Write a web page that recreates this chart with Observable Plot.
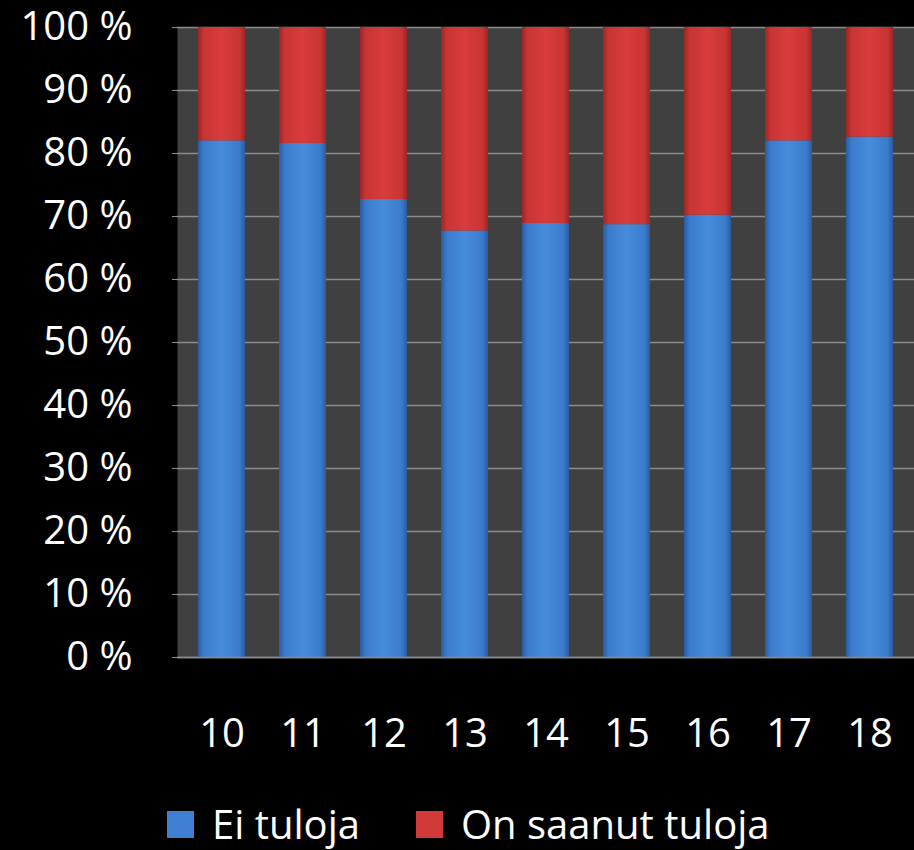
<!DOCTYPE html>
<html>
<head>
<meta charset="utf-8">
<script src="https://cdn.jsdelivr.net/npm/d3@7"></script>
<script src="https://cdn.jsdelivr.net/npm/@observablehq/plot@0.6"></script>
<style>
  html, body { margin: 0; padding: 0; background: #000; }
  #wrap { position: relative; width: 914px; height: 850px; overflow: hidden; background: #000; }
  #wrap svg { overflow: visible; }
  .leg { position: absolute; top: 796px; display: flex; align-items: center; font-family: "Open Sans", sans-serif; font-size: 40px; color: #fff; line-height: 56px; white-space: nowrap; }
  .sw { width: 27px; height: 27px; margin-right: 18px; }
</style>
</head>
<body>
<div id="wrap"></div>
<script>
const ages = ["10", "11", "12", "13", "14", "15", "16", "17", "18"];
const series = ["Ei tuloja", "On saanut tuloja"];
const eiTuloja = [82.0, 81.6, 72.7, 67.7, 68.9, 68.7, 70.2, 82.0, 82.6];
const onSaanut = [18.0, 18.4, 27.3, 32.3, 31.1, 31.3, 29.8, 18.0, 17.4];
const yTicks = [0, 10, 20, 30, 40, 50, 60, 70, 80, 90, 100];
const colors = ["#3f80d2", "#d23a3a"];

const rows = [];
ages.forEach((a, i) => {
  rows.push({age: a, series: series[0], value: eiTuloja[i]});
  rows.push({age: a, series: series[1], value: onSaanut[i]});
});

const chart = Plot.plot({
  width: 914,
  height: 770,
  marginTop: 27,
  marginBottom: 113,
  marginLeft: 177,
  marginRight: 0,
  style: {background: "#000", color: "#fff", fontFamily: "Open Sans, sans-serif", fontSize: "40px", overflow: "visible"},
  x: {domain: ages, paddingInner: 0.42, paddingOuter: 0.21, label: null},
  y: {domain: [0, 100], label: null},
  color: {domain: series, range: ["url(#gBlue)", "url(#gRed)"]},
  marks: [
    Plot.frame({fill: "#404040", stroke: "none"}),
    Plot.ruleY(yTicks, {stroke: "#8c8c8c", strokeWidth: 1.5}),
    Plot.barY(rows, {x: "age", y: "value", fill: "series", order: series, stroke: "none"}),
    Plot.ruleX([0], {frameAnchor: "left", stroke: "#8c8c8c", strokeWidth: 1.5}),
    Plot.axisY({ticks: yTicks, tickFormat: d => d + " %", tickSize: 5, tickPadding: 40, stroke: "#8c8c8c", fontSize: 40, label: null}),
    Plot.axisX({tickSize: 0, tickPadding: 61, fontSize: 40, label: null}),
    Plot.ruleY([0], {stroke: "#8c8c8c", strokeWidth: 1.5})
  ]
});

// gradient definitions for bevelled bars
const ns = "http://www.w3.org/2000/svg";
const defs = document.createElementNS(ns, "defs");
function grad(id, dark, mid, light) {
  const g = document.createElementNS(ns, "linearGradient");
  g.setAttribute("id", id);
  g.setAttribute("x1", "0"); g.setAttribute("x2", "1"); g.setAttribute("y1", "0"); g.setAttribute("y2", "0");
  [[0, dark], [0.12, mid], [0.5, light], [0.88, mid], [1, dark]].forEach(([o, c]) => {
    const s = document.createElementNS(ns, "stop");
    s.setAttribute("offset", o); s.setAttribute("stop-color", c);
    g.appendChild(s);
  });
  defs.appendChild(g);
}
grad("gBlue", "#2a5c9e", "#3b7bcc", "#478cdc");
grad("gRed", "#9c2626", "#c93434", "#d83c3c");
chart.insertBefore(defs, chart.firstChild);

const wrap = document.getElementById("wrap");
wrap.appendChild(chart);

const legLeft = [167, 416];
series.forEach((s, i) => {
  const item = document.createElement("div");
  item.className = "leg";
  item.style.left = legLeft[i] + "px";
  const sw = document.createElement("div");
  sw.className = "sw";
  sw.style.background = colors[i];
  const t = document.createElement("span");
  t.textContent = s;
  item.appendChild(sw); item.appendChild(t);
  wrap.appendChild(item);
});
</script>
</body>
</html>
